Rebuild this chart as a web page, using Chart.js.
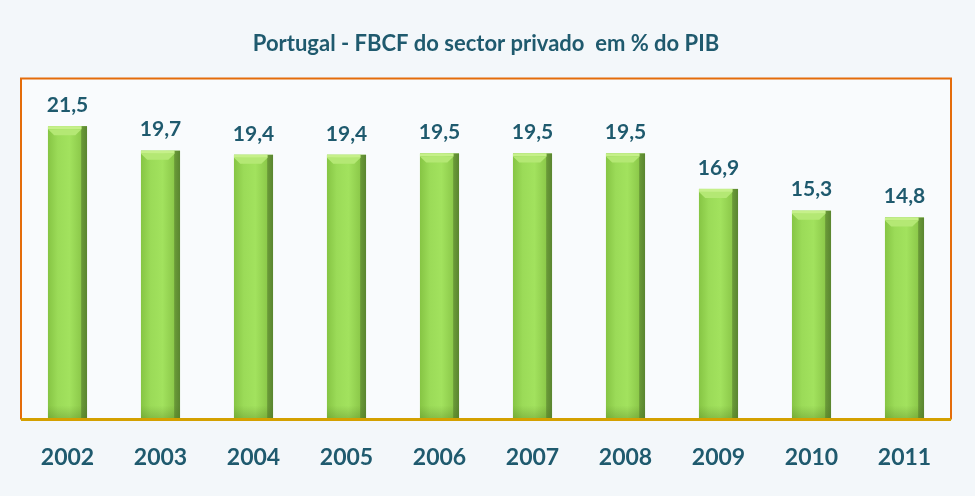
<!DOCTYPE html>
<html>
<head>
<meta charset="utf-8">
<script src="https://cdn.jsdelivr.net/npm/chart.js@4.4.1/dist/chart.umd.min.js"></script>
<style>
  html, body { margin: 0; padding: 0; background: #f3f7fa; }
  #wrap { width: 975px; height: 496px; }
</style>
</head>
<body>
<div id="wrap"><canvas id="fbcfChart" width="975" height="496"></canvas></div>
<script>
const years = ['2002', '2003', '2004', '2005', '2006', '2007', '2008', '2009', '2010', '2011'];
const fbcfValues = [21.5, 19.7, 19.4, 19.4, 19.5, 19.5, 19.5, 16.9, 15.3, 14.8];

const textColor = '#1f5a6e';
const fontFamily = 'Lato, "Open Sans", sans-serif';

// plot background + orange frame
const framePlugin = {
    id: 'frame',
    beforeDatasetsDraw(chart) {
        const { ctx, chartArea: a } = chart;
        ctx.save();
        ctx.fillStyle = '#f9fbfd';
        ctx.fillRect(a.left, a.top, a.right - a.left, a.bottom - a.top);
        ctx.restore();
    },
    afterDraw(chart) {
        const { ctx, chartArea: a } = chart;
        ctx.save();
        ctx.strokeStyle = '#e46c0a';
        ctx.lineWidth = 2;
        ctx.beginPath();
        ctx.moveTo(a.left, a.bottom);
        ctx.lineTo(a.left, a.top);
        ctx.lineTo(a.right, a.top);
        ctx.lineTo(a.right, a.bottom);
        ctx.stroke();
        ctx.strokeStyle = '#d4a000';
        ctx.lineWidth = 3;
        ctx.beginPath();
        ctx.moveTo(a.left, a.bottom);
        ctx.lineTo(a.right, a.bottom);
        ctx.stroke();
        ctx.restore();
    }
};

// cylinder-like shading and value labels
const barStylePlugin = {
    id: 'barStyle',
    afterDatasetsDraw(chart) {
        const ctx = chart.ctx;
        const meta = chart.getDatasetMeta(0);
        meta.data.forEach((bar, i) => {
            const left = bar.x - bar.width / 2;
            const w = bar.width;
            const top = bar.y;
            const h = bar.base - bar.y;
            ctx.save();
            const g = ctx.createLinearGradient(left, 0, left + w, 0);
            g.addColorStop(0, '#86c544');
            g.addColorStop(0.25, '#9bdb58');
            g.addColorStop(0.55, '#a2e25e');
            g.addColorStop(0.85, '#8cc94a');
            g.addColorStop(0.86, '#6a9a38');
            g.addColorStop(1, '#5a8530');
            ctx.fillStyle = g;
            ctx.fillRect(left, top, w, h);
            // top cap highlight
            ctx.fillStyle = '#c6f08a';
            ctx.fillRect(left, top, w * 0.86, 3);
            ctx.fillStyle = '#b4e874';
            ctx.beginPath();
            ctx.moveTo(left, top + 3);
            ctx.lineTo(left + w * 0.86, top + 3);
            ctx.lineTo(left + w * 0.7, top + 9);
            ctx.lineTo(left + w * 0.16, top + 9);
            ctx.closePath();
            ctx.fill();
            // bottom shade
            const gb = ctx.createLinearGradient(0, bar.base - 14, 0, bar.base);
            gb.addColorStop(0, 'rgba(80,120,30,0)');
            gb.addColorStop(1, 'rgba(80,120,30,0.35)');
            ctx.fillStyle = gb;
            ctx.fillRect(left, bar.base - 14, w, 14);
            // value label
            ctx.fillStyle = textColor;
            ctx.font = 'bold 21px ' + fontFamily;
            ctx.textAlign = 'center';
            ctx.textBaseline = 'middle';
            ctx.fillText(fbcfValues[i].toFixed(1).replace('.', ','), bar.x, top - 21);
            ctx.restore();
        });
    }
};

new Chart(document.getElementById('fbcfChart').getContext('2d'), {
    type: 'bar',
    data: {
        labels: years,
        datasets: [{
            data: fbcfValues,
            backgroundColor: '#9bdb58',
            barPercentage: 0.42,
            categoryPercentage: 1.0
        }]
    },
    options: {
        responsive: false,
        animation: false,
        layout: { padding: { left: 21, right: 24, top: 0, bottom: 9 } },
        plugins: {
            legend: { display: false },
            tooltip: { enabled: false },
            title: {
                display: true,
                text: 'Portugal - FBCF do sector privado  em % do PIB',
                color: textColor,
                font: { family: fontFamily, size: 22, weight: 'bold' },
                padding: { top: 31, bottom: 21 }
            }
        },
        scales: {
            x: {
                grid: { display: false },
                border: { display: false },
                ticks: {
                    color: textColor,
                    font: { family: fontFamily, size: 23, weight: 'bold' },
                    padding: 16
                }
            },
            y: {
                display: false,
                min: 0,
                max: 25
            }
        }
    },
    plugins: [framePlugin, barStylePlugin]
});
</script>
</body>
</html>
